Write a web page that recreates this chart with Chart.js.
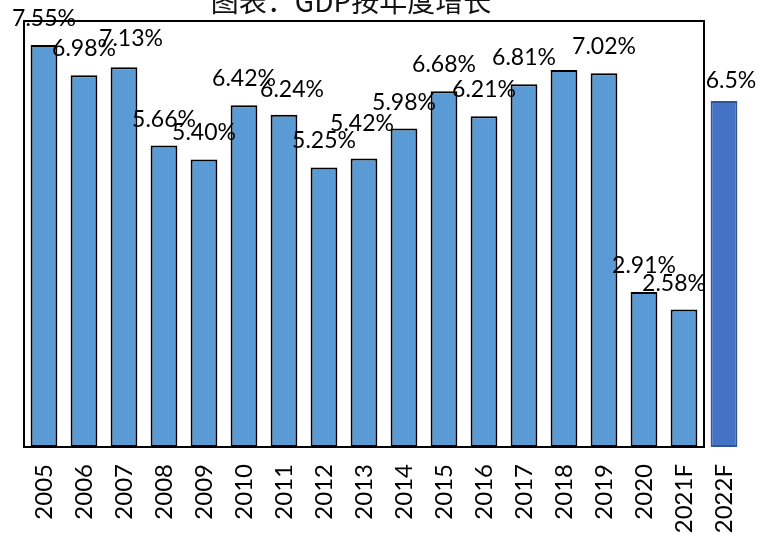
<!DOCTYPE html>
<html>
<head>
<meta charset="utf-8">
<script src="https://cdn.jsdelivr.net/npm/chart.js@4/dist/chart.umd.min.js"></script>
<style>
  body { margin: 0; background: #fff; }
  canvas { display: block; }
</style>
</head>
<body>
<canvas id="gdpChart" width="761" height="534"></canvas>
<script>
const years = ['2005', '2006', '2007', '2008', '2009', '2010', '2011', '2012', '2013',
  '2014', '2015', '2016', '2017', '2018', '2019', '2020', '2021F', '2022F']
const growth = [7.55, 6.98, 7.13, 5.66, 5.40, 6.42, 6.24, 5.25, 5.42,
  5.98, 6.68, 6.21, 6.81, 7.08, 7.02, 2.91, 2.58, 6.5]
// 2018 has no label on the chart
const growthLabels = ['7.55%', '6.98%', '7.13%', '5.66%', '5.40%', '6.42%', '6.24%', '5.25%', '5.42%',
  '5.98%', '6.68%', '6.21%', '6.81%', null, '7.02%', '2.91%', '2.58%', '6.5%']

const titleText = '图表：GDP按年度增长'
const barColor = '#5B9BD5'
const forecastColor = '#4472C4'
const forecastBorder = '#2F5597'
const lastIndex = years.length - 1

// some labels were dragged off-centre, keep those nudges here
const labelNudge = { 2: [7, -2], 6: [8, 1], 8: [-2, -8], 16: [-10, 0], 17: [7, 6] }

const framePlugin = {
  id: 'frame',
  beforeDatasetsDraw(chart) {
    const { ctx, chartArea } = chart
    const x = chart.scales.x
    const right = (x.getPixelForValue(lastIndex - 1) + x.getPixelForValue(lastIndex)) / 2
    ctx.save()
    ctx.strokeStyle = '#000'
    ctx.lineWidth = 2
    ctx.strokeRect(chartArea.left, chartArea.top, right - chartArea.left, chartArea.bottom - chartArea.top)
    ctx.restore()
  }
}

const valueLabels = {
  id: 'valueLabels',
  afterDatasetsDraw(chart) {
    const { ctx } = chart
    const meta = chart.getDatasetMeta(0)
    ctx.save()
    ctx.fillStyle = '#000'
    ctx.font = '23px Lato'
    ctx.textAlign = 'center'
    ctx.textBaseline = 'alphabetic'
    meta.data.forEach((bar, i) => {
      const text = growthLabels[i]
      if (!text) return
      const n = labelNudge[i] || [0, 0]
      ctx.fillText(text, bar.x + n[0], bar.y - 19 + n[1])
    })
    ctx.restore()
  }
}

const titlePlugin = {
  id: 'topTitle',
  afterDraw(chart) {
    const { ctx } = chart
    ctx.save()
    ctx.fillStyle = '#111'
    ctx.font = '28px "Noto Sans CJK SC"'
    ctx.textAlign = 'center'
    ctx.textBaseline = 'alphabetic'
    ctx.fillText(titleText, 351, 12)
    ctx.restore()
  }
}

const ctx = document.getElementById('gdpChart')

new Chart(ctx, {
  type: 'bar',
  data: {
    labels: years,
    datasets: [{
      data: growth,
      backgroundColor: years.map((y, i) => i === lastIndex ? forecastColor : barColor),
      borderColor: years.map((y, i) => i === lastIndex ? forecastBorder : '#000'),
      borderWidth: 2,
      borderSkipped: false,
      categoryPercentage: 1,
      barPercentage: 0.67
    }]
  },
  options: {
    responsive: false,
    animation: false,
    layout: { padding: { left: 24, right: 17, top: 21, bottom: 0 } },
    plugins: {
      legend: { display: false },
      tooltip: { enabled: false }
    },
    scales: {
      x: {
        grid: { display: false, drawTicks: false },
        border: { display: false },
        ticks: {
          color: '#000',
          font: { family: 'Lato', size: 24 },
          minRotation: 90,
          maxRotation: 90,
          padding: 17,
          autoSkip: false
        },
        afterFit(scale) {
          scale.height = 87
          scale.paddingLeft = 0
          scale.paddingRight = 0
        }
      },
      y: {
        display: false,
        min: 0,
        max: 8
      }
    }
  },
  plugins: [framePlugin, valueLabels, titlePlugin]
})
</script>
</body>
</html>
